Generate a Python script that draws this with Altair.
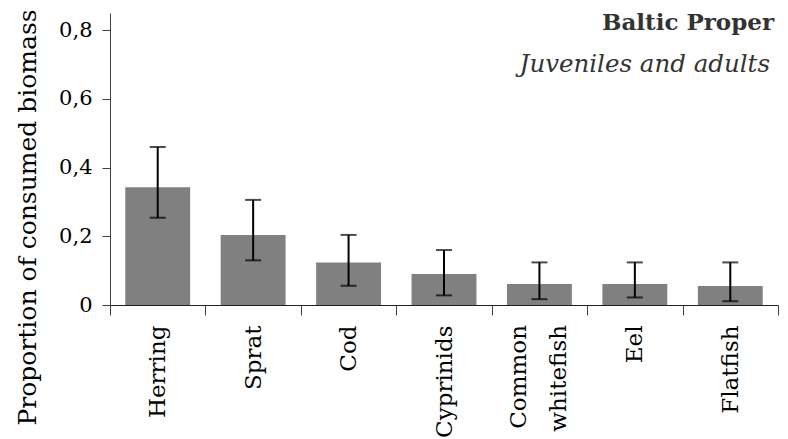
import altair as alt
import pandas as pd

CATEGORIES = ["Herring", "Sprat", "Cod", "Cyprinids", "Common whitefish", "Eel", "Flatfish"]
VALUES = [0.343, 0.204, 0.124, 0.090, 0.061, 0.061, 0.055]
LOWER = [0.254, 0.130, 0.056, 0.028, 0.017, 0.022, 0.011]
UPPER = [0.460, 0.306, 0.204, 0.160, 0.124, 0.124, 0.124]
Y_TICKS = [0, 0.2, 0.4, 0.6, 0.8]
TITLE = "Baltic Proper"
SUBTITLE = "Juveniles and adults"
Y_TITLE = "Proportion of consumed biomass"

df = pd.DataFrame({"cat": CATEGORIES, "val": VALUES, "lo": LOWER, "hi": UPPER})

FONT = "DejaVu Serif"
LABEL_SIZE = 23
LINE_H = 40
H = 292

x_scale = alt.Scale(paddingInner=0, paddingOuter=0)

x_enc = alt.X(
    "cat:N",
    sort=CATEGORIES,
    scale=x_scale,
    axis=alt.Axis(
        title=None,
        labelAngle=-90,
        labelAlign="right",
        labelBaseline="middle",
        labelFontSize=LABEL_SIZE,
        labelPadding=10,
        labelColor="black",
        labelFont=FONT,
        tickBand="extent",
        tickSize=10,
        tickColor="#404040",
        domainColor="#202020",
        labelExpr="indexof(datum.label, ' ') >= 0 ? '' : datum.label",
    ),
)

y_scale = alt.Scale(domain=[0, 0.85], nice=False)

bars = alt.Chart(df).mark_bar(color="#808080", width=alt.RelativeBandSize(0.68)).encode(
    x=x_enc,
    y=alt.Y(
        "val:Q",
        scale=y_scale,
        axis=alt.Axis(
            title=Y_TITLE,
            values=Y_TICKS,
            labelExpr="datum.value == 0 ? '0' : replace(format(datum.value, '.1f'), '.', ',')",
            labelFontSize=21,
            labelFont=FONT,
            labelColor="black",
            labelPadding=10,
            tickSize=8,
            tickColor="#404040",
            domainColor="#404040",
            grid=False,
            titleFont=FONT,
            titleFontSize=25,
            titleFontWeight="normal",
            titleColor="black",
            titleAngle=270,
            titleAlign="center",
            titleBaseline="alphabetic",
            titleX=-75,
            titleY=204,
        ),
    ),
)

rules = alt.Chart(df).mark_rule(color="black", strokeWidth=2).encode(
    x=alt.X("cat:N", sort=CATEGORIES, scale=x_scale),
    y=alt.Y("lo:Q", scale=y_scale),
    y2="hi:Q",
)

caps_hi = alt.Chart(df).mark_tick(color="black", thickness=2, size=16).encode(
    x=alt.X("cat:N", sort=CATEGORIES, scale=x_scale),
    y=alt.Y("hi:Q", scale=y_scale),
)
caps_lo = alt.Chart(df).mark_tick(color="black", thickness=2, size=16).encode(
    x=alt.X("cat:N", sort=CATEGORIES, scale=x_scale),
    y=alt.Y("lo:Q", scale=y_scale),
)

# multi-line category labels, centred on their band
multi_labels = alt.Chart(df).transform_filter(
    "indexof(datum.cat, ' ') >= 0"
).transform_calculate(
    lines="split(datum.cat, ' ')"
).mark_text(
    font=FONT, fontSize=LABEL_SIZE, color="black", angle=270,
    align="right", baseline="middle", lineHeight=LINE_H, dy=-LINE_H / 2,
).encode(
    x=alt.X("cat:N", sort=CATEGORIES, scale=x_scale),
    y=alt.value(H + 20),
    text="lines:N",
)

title_txt = alt.Chart(alt.Data(values=[{"t": TITLE}])).mark_text(
    font=FONT, fontSize=23, fontWeight="bold", color="#333333",
    align="right", baseline="alphabetic",
).encode(x=alt.value(664), y=alt.value(17), text="t:N")

sub_txt = alt.Chart(alt.Data(values=[{"t": SUBTITLE}])).mark_text(
    font=FONT, fontSize=24.5, fontStyle="italic", color="#333333",
    align="right", baseline="alphabetic",
).encode(x=alt.value(660), y=alt.value(59), text="t:N")

chart = alt.layer(bars, rules, caps_hi, caps_lo, multi_labels, title_txt, sub_txt).properties(
    width=668,
    height=H,
    autosize=alt.AutoSizeParams(type="none"),
    padding={"left": 102, "top": 5, "right": 2, "bottom": 134},
    background="white",
).configure_view(stroke=None)

chart.save("out.html", embed_options={"renderer": "svg", "actions": False})
